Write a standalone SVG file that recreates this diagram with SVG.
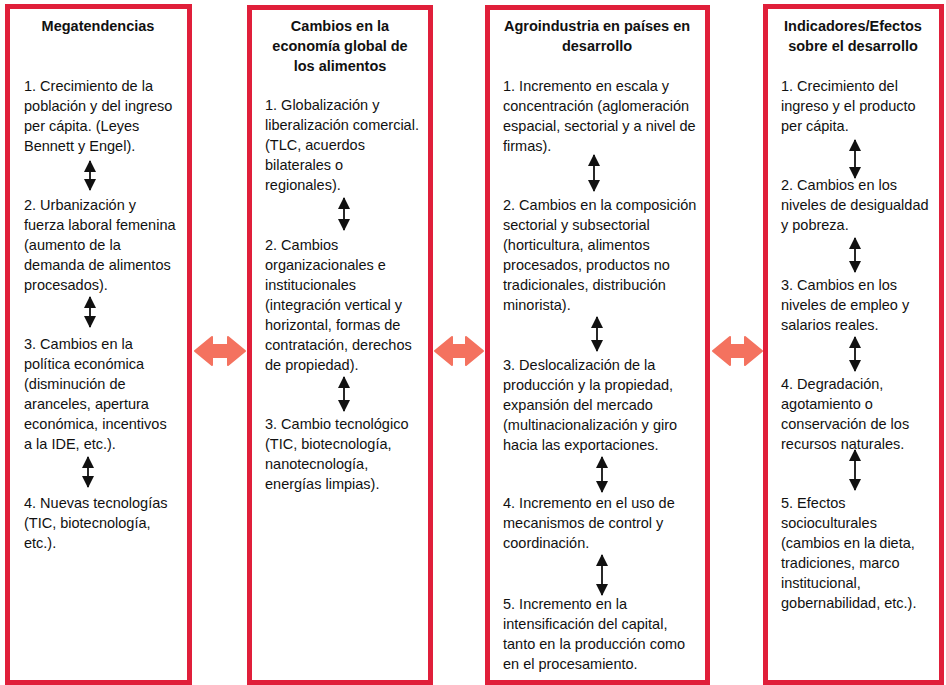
<svg xmlns="http://www.w3.org/2000/svg" width="946" height="685" viewBox="0 0 946 685">
  <style>
    .box { fill: #ffffff; stroke: #e01f3a; stroke-width: 5; }
    .title { font-family: "Liberation Sans", Arial, sans-serif; font-size: 14.5px; font-weight: bold; fill: #111111; text-anchor: middle; }
    .body { font-family: "Liberation Sans", Arial, sans-serif; font-size: 14.5px; fill: #111111; }
    .link { stroke: #111111; stroke-width: 1.8; marker-start: url(#head); marker-end: url(#head); }
    .flow { fill: #f4725f; stroke: #f4725f; stroke-width: 2; stroke-linejoin: round; }
  </style>
  <defs>
    <marker id="head" viewBox="0 0 12 12" markerWidth="12" markerHeight="12" refX="11" refY="6" markerUnits="userSpaceOnUse" orient="auto-start-reverse">
      <path d="M0,0 L12,6 L0,12 Z" fill="#111111"/>
    </marker>
  </defs>
  <rect width="946" height="685" fill="#ffffff"/>

  <!-- Column 1 -->
  <g id="megatendencias">
    <rect class="box" x="7.5" y="6.5" width="182" height="676"/>
    <text class="title" x="98" y="31">Megatendencias</text>
    <text class="body" x="24" y="91">1. Crecimiento de la</text>
    <text class="body" x="24" y="111">población y del ingreso</text>
    <text class="body" x="24" y="131">per cápita. (Leyes</text>
    <text class="body" x="24" y="151">Bennett y Engel).</text>
    <text class="body" x="24" y="210">2. Urbanización y</text>
    <text class="body" x="24" y="230">fuerza laboral femenina</text>
    <text class="body" x="24" y="250">(aumento de la</text>
    <text class="body" x="24" y="270">demanda de alimentos</text>
    <text class="body" x="24" y="290">procesados).</text>
    <text class="body" x="24" y="349">3. Cambios en la</text>
    <text class="body" x="24" y="369">política económica</text>
    <text class="body" x="24" y="389">(disminución de</text>
    <text class="body" x="24" y="409">aranceles, apertura</text>
    <text class="body" x="24" y="429">económica, incentivos</text>
    <text class="body" x="24" y="449">a la IDE, etc.).</text>
    <text class="body" x="24" y="508">4. Nuevas tecnologías</text>
    <text class="body" x="24" y="528">(TIC, biotecnología,</text>
    <text class="body" x="24" y="548">etc.).</text>
  </g>

  <!-- Column 2 -->
  <g id="economia-global">
    <rect class="box" x="249.5" y="7.5" width="181" height="675"/>
    <text class="title" x="340" y="31">Cambios en la</text>
    <text class="title" x="340" y="51">economía global de</text>
    <text class="title" x="340" y="71">los alimentos</text>
    <text class="body" x="265" y="110">1. Globalización y</text>
    <text class="body" x="265" y="130">liberalización comercial.</text>
    <text class="body" x="265" y="150">(TLC, acuerdos</text>
    <text class="body" x="265" y="170">bilaterales o</text>
    <text class="body" x="265" y="190">regionales).</text>
    <text class="body" x="265" y="250">2. Cambios</text>
    <text class="body" x="265" y="270">organizacionales e</text>
    <text class="body" x="265" y="290">institucionales</text>
    <text class="body" x="265" y="310">(integración vertical y</text>
    <text class="body" x="265" y="330">horizontal, formas de</text>
    <text class="body" x="265" y="350">contratación, derechos</text>
    <text class="body" x="265" y="370">de propiedad).</text>
    <text class="body" x="265" y="429">3. Cambio tecnológico</text>
    <text class="body" x="265" y="449">(TIC, biotecnología,</text>
    <text class="body" x="265" y="469">nanotecnología,</text>
    <text class="body" x="265" y="489">energías limpias).</text>
  </g>

  <!-- Column 3 -->
  <g id="agroindustria">
    <rect class="box" x="487.5" y="7.5" width="220" height="675"/>
    <text class="title" x="597" y="31">Agroindustria en países en</text>
    <text class="title" x="597" y="51">desarrollo</text>
    <text class="body" x="503" y="91">1. Incremento en escala y</text>
    <text class="body" x="503" y="111">concentración (aglomeración</text>
    <text class="body" x="503" y="131">espacial, sectorial y a nivel de</text>
    <text class="body" x="503" y="151">firmas).</text>
    <text class="body" x="503" y="210">2. Cambios en la composición</text>
    <text class="body" x="503" y="230">sectorial y subsectorial</text>
    <text class="body" x="503" y="250">(horticultura, alimentos</text>
    <text class="body" x="503" y="270">procesados, productos no</text>
    <text class="body" x="503" y="290">tradicionales, distribución</text>
    <text class="body" x="503" y="310">minorista).</text>
    <text class="body" x="503" y="370">3. Deslocalización de la</text>
    <text class="body" x="503" y="390">producción y la propiedad,</text>
    <text class="body" x="503" y="410">expansión del mercado</text>
    <text class="body" x="503" y="430">(multinacionalización y giro</text>
    <text class="body" x="503" y="450">hacia las exportaciones.</text>
    <text class="body" x="503" y="508">4. Incremento en el uso de</text>
    <text class="body" x="503" y="528">mecanismos de control y</text>
    <text class="body" x="503" y="548">coordinación.</text>
    <text class="body" x="503" y="609">5. Incremento en la</text>
    <text class="body" x="503" y="629">intensificación del capital,</text>
    <text class="body" x="503" y="649">tanto en la producción como</text>
    <text class="body" x="503" y="669">en el procesamiento.</text>
  </g>

  <!-- Column 4 -->
  <g id="indicadores">
    <rect class="box" x="765.5" y="6.5" width="176" height="676"/>
    <text class="title" x="853" y="31">Indicadores/Efectos</text>
    <text class="title" x="853" y="51">sobre el desarrollo</text>
    <text class="body" x="781" y="91">1. Crecimiento del</text>
    <text class="body" x="781" y="111">ingreso y el producto</text>
    <text class="body" x="781" y="131">per cápita.</text>
    <text class="body" x="781" y="190">2. Cambios en los</text>
    <text class="body" x="781" y="210">niveles de desigualdad</text>
    <text class="body" x="781" y="230">y pobreza.</text>
    <text class="body" x="781" y="290">3. Cambios en los</text>
    <text class="body" x="781" y="310">niveles de empleo y</text>
    <text class="body" x="781" y="330">salarios reales.</text>
    <text class="body" x="781" y="389">4. Degradación,</text>
    <text class="body" x="781" y="409">agotamiento o</text>
    <text class="body" x="781" y="429">conservación de los</text>
    <text class="body" x="781" y="449">recursos naturales.</text>
    <text class="body" x="781" y="508">5. Efectos</text>
    <text class="body" x="781" y="528">socioculturales</text>
    <text class="body" x="781" y="548">(cambios en la dieta,</text>
    <text class="body" x="781" y="568">tradiciones, marco</text>
    <text class="body" x="781" y="588">institucional,</text>
    <text class="body" x="781" y="608">gobernabilidad, etc.).</text>
  </g>

  <!-- Connectors -->
  <g id="connectors">
    <!-- two-way links between the columns -->
    <path class="flow" d="M195,351 L212,337 L212,345 L228,345 L228,337 L245,351 L228,365 L228,357 L212,357 L212,365 Z"/>
    <path class="flow" d="M435,351 L452,337 L452,345 L466,345 L466,337 L483,351 L466,365 L466,357 L452,357 L452,365 Z"/>
    <path class="flow" d="M713,351 L730,337 L730,345 L745,345 L745,337 L762,351 L745,365 L745,357 L730,357 L730,365 Z"/>

    <!-- links between items inside each column -->
    <line class="link" x1="90" y1="161" x2="90" y2="190"/>
    <line class="link" x1="90" y1="297" x2="90" y2="327"/>
    <line class="link" x1="88" y1="457" x2="88" y2="487"/>

    <line class="link" x1="344" y1="198" x2="344" y2="230"/>
    <line class="link" x1="344" y1="377" x2="344" y2="411"/>

    <line class="link" x1="594" y1="155" x2="594" y2="191"/>
    <line class="link" x1="597" y1="317" x2="597" y2="351"/>
    <line class="link" x1="602" y1="457" x2="602" y2="492"/>
    <line class="link" x1="602" y1="555" x2="602" y2="595"/>

    <line class="link" x1="855" y1="140" x2="855" y2="178"/>
    <line class="link" x1="855" y1="238" x2="855" y2="272"/>
    <line class="link" x1="855" y1="337" x2="855" y2="371"/>
    <line class="link" x1="855" y1="450" x2="855" y2="490"/>
  </g>
</svg>
